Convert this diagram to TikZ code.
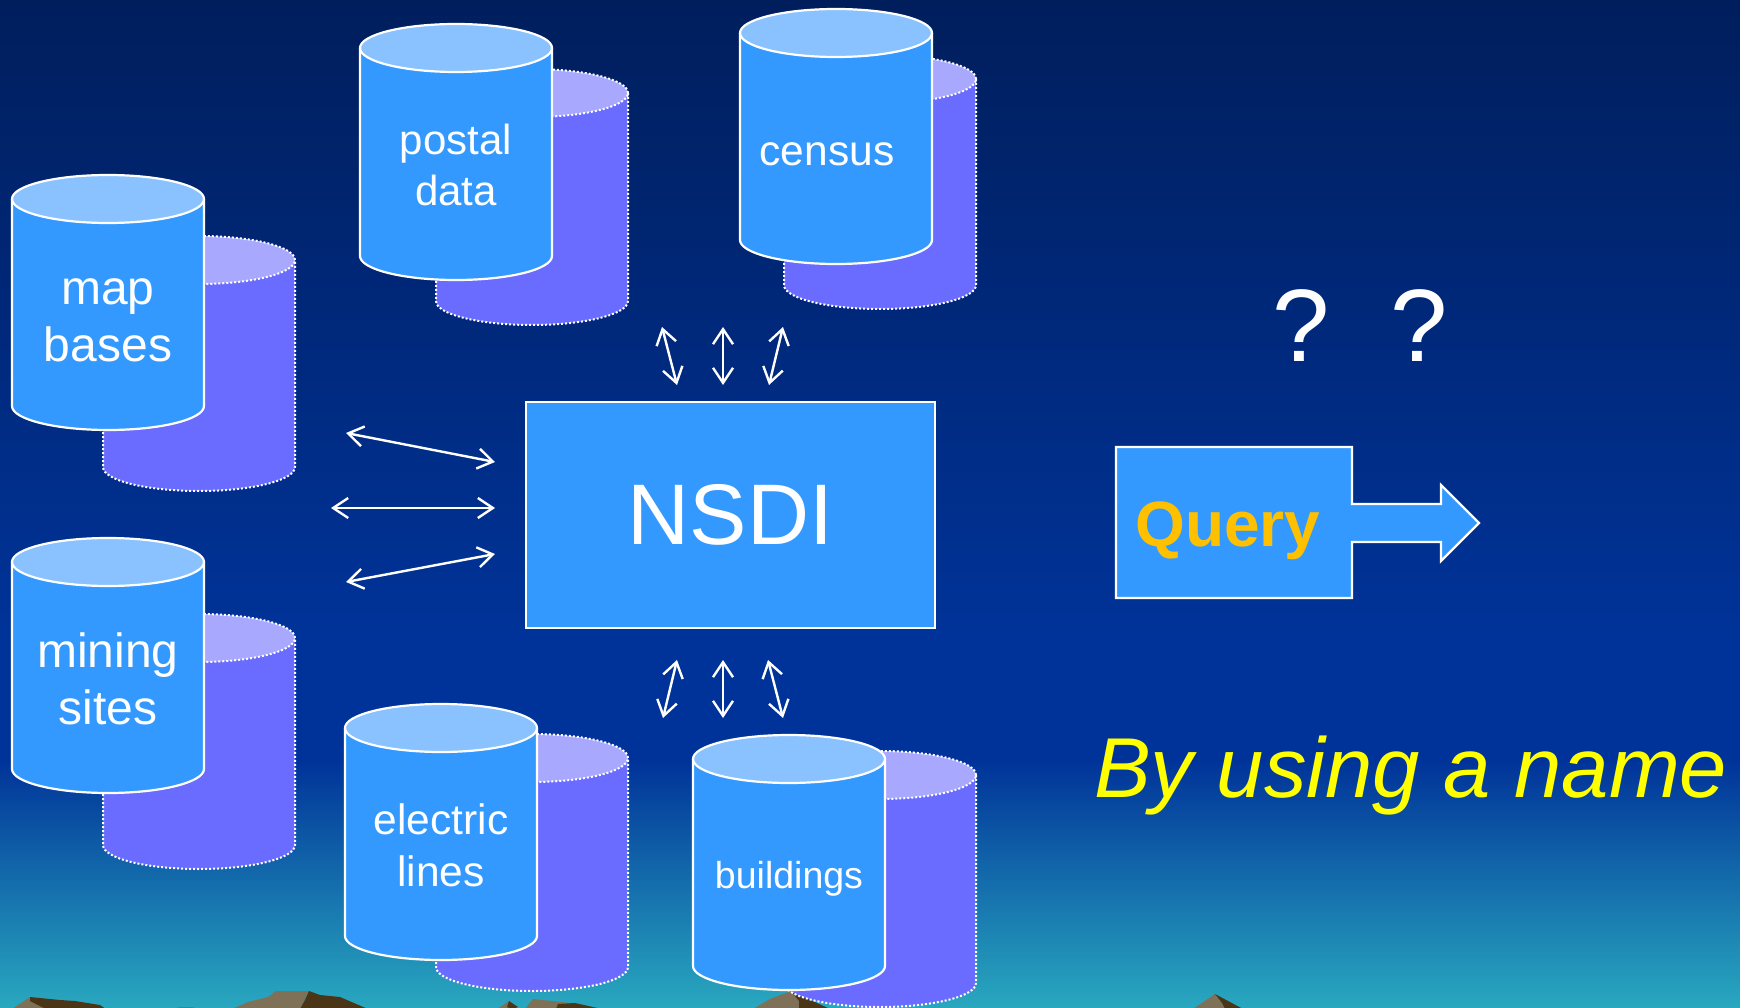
\documentclass[tikz,border=0pt]{standalone}
\usepackage{fontspec}
\setmainfont{Liberation Sans}
\usetikzlibrary{arrows.meta}
\definecolor{frontfill}{HTML}{3399FF}
\definecolor{fronttop}{HTML}{89C2FF}
\definecolor{backfill}{HTML}{6A6CFF}
\definecolor{backtop}{HTML}{A8A8FF}
\definecolor{hilllight}{HTML}{7F7058}
\definecolor{hilldark}{HTML}{4A3616}
\definecolor{querytext}{HTML}{FFC000}
\definecolor{nametext}{HTML}{FFFF00}
\definecolor{skytop}{HTML}{001E5C}
\definecolor{skymid}{HTML}{003399}
\definecolor{skylow}{HTML}{29A8BF}
\pgfdeclareverticalshading{skybg}{100bp}{
 color(0bp)=(skylow);
 color(25bp)=(skylow);
 color(37.3bp)=(skymid);
 color(43.3bp)=(skymid);
 color(75bp)=(skytop);
 color(100bp)=(skytop)}
\tikzset{
 x=1pt,y=-1pt,
 backline/.style={draw=white,line width=2pt,dash pattern=on 2pt off 2pt},
 frontline/.style={draw=white,line width=2.2pt},
 biarrow/.style={draw=white,line width=2.4pt,{Straight Barb[length=15pt,width=20pt,line width=2.4pt]}-{Straight Barb[length=15pt,width=20pt,line width=2.4pt]}},
 boxlabel/.style={text=white,align=center,inner sep=0pt},
 bluebox/.style={fill=frontfill,draw=white,line width=2.2pt},
}
% #1 cx, #2 top centre y, #3 bottom centre y, #4 body, #5 top, #6 line style
\newcommand{\drumshape}[6]{%
 \path[fill=#4] (#1-96,#2) -- (#1-96,#3) arc[start angle=180,end angle=360,x radius=96pt,y radius=24pt] -- (#1+96,#2) -- cycle;
 \path[fill=#5] (#1,#2) ellipse[x radius=96pt,y radius=24pt];
 \draw[#6] (#1-96,#2) -- (#1-96,#3) arc[start angle=180,end angle=360,x radius=96pt,y radius=24pt] -- (#1+96,#2);
 \draw[#6] (#1,#2) ellipse[x radius=96pt,y radius=24pt];
}
\newcommand{\backdrum}[3]{\drumshape{#1}{#2}{#3}{backfill}{backtop}{backline}}
\newcommand{\frontdrum}[3]{\drumshape{#1}{#2}{#3}{frontfill}{fronttop}{frontline}}
\begin{document}
\begin{tikzpicture}
\useasboundingbox (0,0) rectangle (1740,1008);
\begin{scope}
\clip (0,0) rectangle (1740,1008);
\path[shading=skybg] (0,0) rectangle (1740,1008);
% hills
\fill[hilllight] (12,1009) -- (30,997) -- (46,1009) -- cycle;
\fill[hilldark] (30,997) -- (60,1000) -- (75,1001) -- (100,1005) -- (106,1009) -- (46,1009) -- (30,1001) -- cycle;
\fill[hilllight] (172,1009) -- (180,1007) -- (192,1007) -- (198,1009) -- cycle;
\fill[hilllight] (232,1009) -- (248,1002) -- (268,997) -- (276,991) -- (309,991) -- (300,1009) -- cycle;
\fill[hilldark] (309,991) -- (320,995) -- (340,997) -- (368,1009) -- (300,1009) -- (305,1000) -- cycle;
\fill[hilllight] (497,1009) -- (509,1001) -- (518,1009) -- cycle;
\fill[hilldark] (509,1001) -- (518,1007) -- (512,1009) -- (507,1007) -- cycle;
\fill[hilllight] (525,1009) -- (533,999) -- (570,1003) -- (555,1009) -- cycle;
\fill[hilldark] (556,1009) -- (558,1004) -- (575,1003) -- (602,1009) -- cycle;
\fill[hilllight] (753,1009) -- (770,999) -- (791,991) -- (800,1001) -- (800,1009) -- cycle;
\fill[hilldark] (791,991) -- (830,1009) -- (799,1009) -- (799,1001) -- cycle;
\fill[hilllight] (1193,1009) -- (1215,994) -- (1222,1003) -- (1225,1009) -- cycle;
\fill[hilldark] (1215,994) -- (1243,1009) -- (1225,1009) -- (1222,1003) -- cycle;
% drums
\backdrum{199}{260}{467}
\frontdrum{108}{199}{406}
\backdrum{199}{638}{845}
\frontdrum{108}{562}{769}
\backdrum{532}{93}{301}
\frontdrum{456}{48}{256}
\backdrum{880}{79}{285}
\frontdrum{836}{33}{240}
\backdrum{532}{758}{967}
\frontdrum{441}{728}{936}
\backdrum{880}{775}{983}
\frontdrum{789}{759}{966}
\end{scope}
\node[boxlabel,font=\fontsize{48}{57}\selectfont] (mapbases) at (108,320.5) {map\\bases};
\node[boxlabel,font=\fontsize{48}{57}\selectfont] (miningsites) at (108,678.5) {mining\\sites};
\node[boxlabel,font=\fontsize{42}{51}\selectfont] (postal) at (456,165) {postal\\data};
\node[boxlabel,font=\fontsize{42.5}{52}\selectfont] (census) at (827,154) {census};
\node[boxlabel,font=\fontsize{42.5}{52}\selectfont] (electric) at (441,845) {electric\\lines};
\node[boxlabel,font=\fontsize{37.5}{44}\selectfont] (buildings) at (789,879) {buildings};
% NSDI
\node[bluebox,minimum width=409pt,minimum height=226pt,inner sep=0pt,text=white,font=\fontsize{86}{90}\selectfont] (nsdi) at (730.5,515) {NSDI};
% connectors
\coordinate (la1) at (346,433); \coordinate (lb1) at (495,462);
\coordinate (la2) at (331,508); \coordinate (lb2) at (495,508);
\coordinate (la3) at (346,582); \coordinate (lb3) at (495,554);
\coordinate (ta1) at (662,327); \coordinate (tb1) at (677,385);
\coordinate (ta2) at (723,327); \coordinate (tb2) at (723,385);
\coordinate (ta3) at (783,327); \coordinate (tb3) at (769,385);
\coordinate (ba1) at (677,660); \coordinate (bb1) at (663,718);
\coordinate (ba2) at (723,660); \coordinate (bb2) at (723,718);
\coordinate (ba3) at (768,660); \coordinate (bb3) at (783,718);
\foreach \p in {l,t,b}{\foreach \i in {1,2,3}{\draw[biarrow] (\p a\i) -- (\p b\i);}}
% Query callout
\draw[bluebox,line join=miter] (1116,447) -- (1352,447) -- (1352,504) -- (1441,504) -- (1441,485) -- (1479,523) -- (1441,561) -- (1441,542) -- (1352,542) -- (1352,598) -- (1116,598) -- cycle;
\node[anchor=base west,inner sep=0pt,text=querytext,font=\fontsize{64}{70}\selectfont\bfseries] (query) at (1135,546) {Query};
\node[text=white,inner sep=0pt,font=\fontsize{103}{110}\selectfont] (q1) at (1301,326) {?};
\node[text=white,inner sep=0pt,font=\fontsize{103}{110}\selectfont] (q2) at (1419.5,326) {?};
\node[anchor=base west,inner sep=0pt,text=nametext,font=\fontsize{85}{90}\selectfont\itshape] (byname) at (1094,797) {By using a name};
\end{tikzpicture}
\end{document}
